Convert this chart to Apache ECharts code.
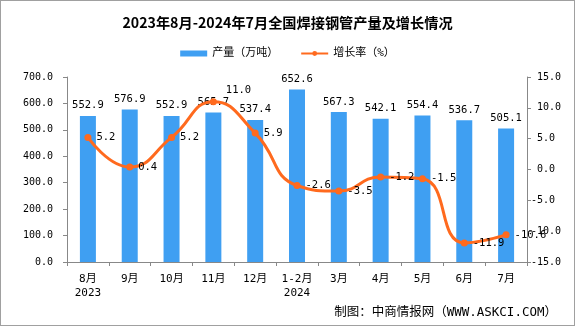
<!DOCTYPE html>
<html><head><meta charset="utf-8">
<script src="https://cdn.jsdelivr.net/npm/echarts@6/dist/echarts.min.js"></script>
<style>html,body{margin:0;padding:0;background:#fff}#c{width:573px;height:324px;border:1px solid #a0a0a0}</style>
</head><body><div id="c"></div>
<script>
const categories = ['8月\n2023','9月','10月','11月','12月','1-2月\n2024','3月','4月','5月','6月','7月'];
const production = [552.9,576.9,552.9,565.7,537.4,652.6,567.3,542.1,554.4,536.7,505.1];
const growth = [5.2,0.4,5.2,11.0,5.9,-2.6,-3.5,-1.2,-1.5,-11.9,-10.6];
const leftTicks = [0,700,100];
const rightTicks = [-15,15,5];
const FONT = '"DejaVu Sans Mono","Noto Sans CJK SC",monospace';
const growthData = growth.map((v,i)=> i===3 ? {value:v,label:{offset:[4,-11]}} : v);
const chart = echarts.init(document.getElementById('c'));
chart.setOption({
  animation:false,
  title:{text:'2023年8月-2024年7月全国焊接钢管产量及增长情况',left:'center',top:10,
    textStyle:{fontSize:14.2,fontWeight:'bold',color:'#000',fontFamily:'"Noto Sans CJK SC"'}},
  legend:{top:42,left:'center',itemGap:22,itemWidth:27,itemHeight:6,
    textStyle:{fontSize:11,color:'#000',fontFamily:FONT},
    data:[{name:'产量（万吨）',icon:'rect'},{name:'增长率（%）'}]},
  graphic:[{type:'text',right:17,top:305,style:{text:'制图：中商情报网（WWW.ASKCI.COM）',fontSize:12.5,fill:'#000',fontFamily:FONT}}],
  grid:{left:66,right:47,top:76,bottom:63},
  xAxis:{type:'category',data:categories,
    axisLine:{lineStyle:{color:'#888'}},
    axisTick:{show:true,alignWithLabel:false,length:4,lineStyle:{color:'#888'}},
    axisLabel:{color:'#000',fontSize:11,fontFamily:FONT,interval:0,margin:10,lineHeight:14}},
  yAxis:[{type:'value',min:leftTicks[0],max:leftTicks[1],interval:leftTicks[2],
    splitLine:{show:false},
    axisLine:{show:true,lineStyle:{color:'#888'}},
    axisTick:{show:true,length:4,lineStyle:{color:'#888'}},
    axisLabel:{color:'#000',fontSize:10,fontFamily:FONT,margin:14,formatter:v=>v.toFixed(1)}},
   {type:'value',min:rightTicks[0],max:rightTicks[1],interval:rightTicks[2],position:'right',
    splitLine:{show:false},
    axisLine:{show:true,lineStyle:{color:'#888'}},
    axisTick:{show:true,length:4,lineStyle:{color:'#888'}},
    axisLabel:{color:'#000',fontSize:10,fontFamily:FONT,margin:4,formatter:v=>(v>=0?' ':'')+v.toFixed(1)}}],
  series:[{name:'产量（万吨）',type:'bar',data:production,barWidth:16,
    itemStyle:{color:'#3F9FF2'},
    label:{show:true,position:'top',distance:5,color:'#000',fontSize:10.5,fontFamily:FONT,formatter:p=>p.value.toFixed(1)}},
   {name:'增长率（%）',type:'line',yAxisIndex:1,data:growthData,smooth:0.5,
    symbol:'circle',symbolSize:7,
    lineStyle:{color:'#FF6A1E',width:3},itemStyle:{color:'#FF6A1E'},
    label:{show:true,position:'right',distance:5,color:'#000',fontSize:10.5,fontFamily:FONT,formatter:p=>p.value.toFixed(1)}}]
});
</script></body></html>
